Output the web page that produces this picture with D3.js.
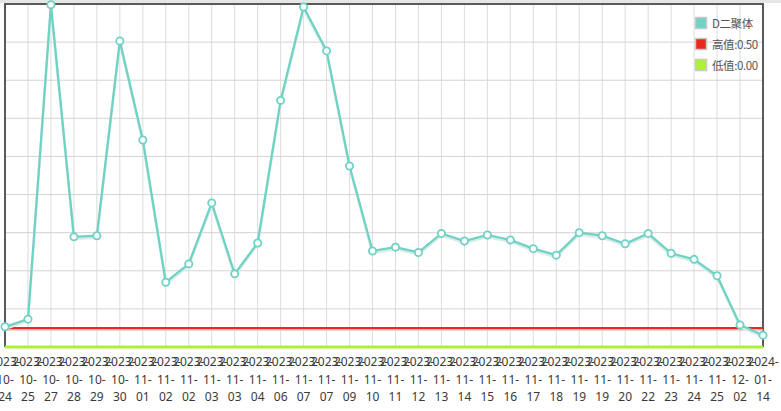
<!DOCTYPE html>
<html><head><meta charset="utf-8">
<script src="https://cdn.jsdelivr.net/npm/d3@7/dist/d3.min.js"></script>
<style>
html,body{margin:0;padding:0;background:#fff;overflow:hidden;}
svg{display:block;}
</style></head>
<body>
<svg id="c" width="781" height="411"></svg>
<script>
const categories = ["2023-10-24","2023-10-25","2023-10-27","2023-10-28","2023-10-29","2023-10-30","2023-11-01","2023-11-02","2023-11-02","2023-11-03","2023-11-03","2023-11-04","2023-11-06","2023-11-07","2023-11-07","2023-11-09","2023-11-10","2023-11-11","2023-11-12","2023-11-13","2023-11-14","2023-11-15","2023-11-16","2023-11-17","2023-11-18","2023-11-19","2023-11-19","2023-11-20","2023-11-22","2023-11-23","2023-11-24","2023-11-25","2023-12-02","2024-01-14"];
const seriesName = "D二聚体";
const values = [0.53,0.73,8.98,2.89,2.92,8.03,5.43,1.70,2.18,3.78,1.92,2.73,6.47,8.92,7.77,4.75,2.52,2.62,2.48,2.98,2.78,2.94,2.81,2.58,2.41,3.00,2.92,2.71,2.98,2.46,2.30,1.87,0.58,0.31];
const highValue = 0.50;
const lowValue = 0.00;
const yTicks = [0,1,2,3,4,5,6,7,8,9];
const legendLabels = ["D二聚体","高值:0.50","低值:0.00"];
const colors = {series:"#70d2c4", high:"#e8291f", low:"#adf03a"};

const svg = d3.select("#c");
const L = 5, R = 763, T = 4, B = 347;
const x = d3.scalePoint().domain(d3.range(categories.length)).range([L, R]).padding(0);
const y = d3.scaleLinear().domain([0, 9]).range([B, T]);

// top gray band
svg.append("rect").attr("x",0).attr("y",0).attr("width",781).attr("height",3).attr("fill","#e6e6e6");

// grid
const g = svg.append("g");
g.selectAll("line.v").data(d3.range(categories.length)).join("line")
  .attr("x1",d=>x(d)).attr("x2",d=>x(d)).attr("y1",T).attr("y2",B)
  .attr("stroke","#dcdcdc").attr("stroke-width",1);
g.selectAll("line.h").data(yTicks).join("line")
  .attr("x1",L).attr("x2",R).attr("y1",d=>y(d)).attr("y2",d=>y(d))
  .attr("stroke","#d4d4d4").attr("stroke-width",1);

// y axis labels (mostly cut off at left)
const yAxis = d3.axisLeft(y).tickValues(yTicks).tickSize(0).tickPadding(3);
const ya = svg.append("g").attr("transform",`translate(${L-2},0)`).call(yAxis);
ya.select(".domain").remove();
ya.selectAll("text").attr("fill","#5b8fd0").attr("font-family","'Noto Sans', sans-serif").attr("font-size",12);

// border
svg.append("path").attr("d",`M${L},${B}V${T}H${R}V${B}`).attr("fill","none").attr("stroke","#5a5a5a").attr("stroke-width",2);

// low & high lines
svg.append("line").attr("x1",L).attr("x2",R).attr("y1",y(lowValue)).attr("y2",y(lowValue))
  .attr("stroke",colors.low).attr("stroke-width",3);
svg.append("line").attr("x1",L).attr("x2",R).attr("y1",y(highValue)+1).attr("y2",y(highValue)+1)
  .attr("stroke","#f3b0ab").attr("stroke-width",3);
svg.append("line").attr("x1",L).attr("x2",R).attr("y1",y(highValue)).attr("y2",y(highValue))
  .attr("stroke",colors.high).attr("stroke-width",2);

// series
const line = d3.line().x((d,i)=>x(i)).y(d=>y(d));
svg.append("path").datum(values).attr("d",line).attr("transform","translate(0,2)")
  .attr("fill","none").attr("stroke","#d9ece9").attr("stroke-width",2.5);
svg.append("path").datum(values).attr("d",line)
  .attr("fill","none").attr("stroke",colors.series).attr("stroke-width",2.3);
svg.selectAll("circle.pt").data(values).join("circle")
  .attr("cx",(d,i)=>x(i)).attr("cy",d=>y(d)).attr("r",3.6)
  .attr("fill","#fff").attr("stroke",colors.series).attr("stroke-width",1.8);

// x labels
const xa = svg.append("g").attr("font-family","'Noto Sans', sans-serif").attr("font-size",12).attr("fill","#3a3a3a");
categories.forEach((c,i)=>{
  const p = c.split("-");
  const lines = [p[0]+"-", p[1]+"-", p[2]];
  const t = xa.append("text").attr("text-anchor","middle");
  lines.forEach((s,j)=>{
    t.append("tspan").attr("x",x(i)).attr("y",366+j*17.5).text(s);
  });
});

// legend
const lg = svg.append("g").attr("font-family","'Noto Sans CJK SC','Noto Sans', sans-serif").attr("font-size",11.5).attr("letter-spacing","-0.4px").attr("fill","#555");
const legColors = [colors.series, colors.high, colors.low];
legendLabels.forEach((s,i)=>{
  const yy = 17 + i*21;
  lg.append("rect").attr("x",695.5).attr("y",yy+0.5).attr("width",11).attr("height",11)
    .attr("fill",legColors[i]).attr("stroke","#c8c8c8").attr("stroke-width",1.5);
  lg.append("text").attr("x",712).attr("y",yy+10.5).text(s);
});
</script>
</body></html>
